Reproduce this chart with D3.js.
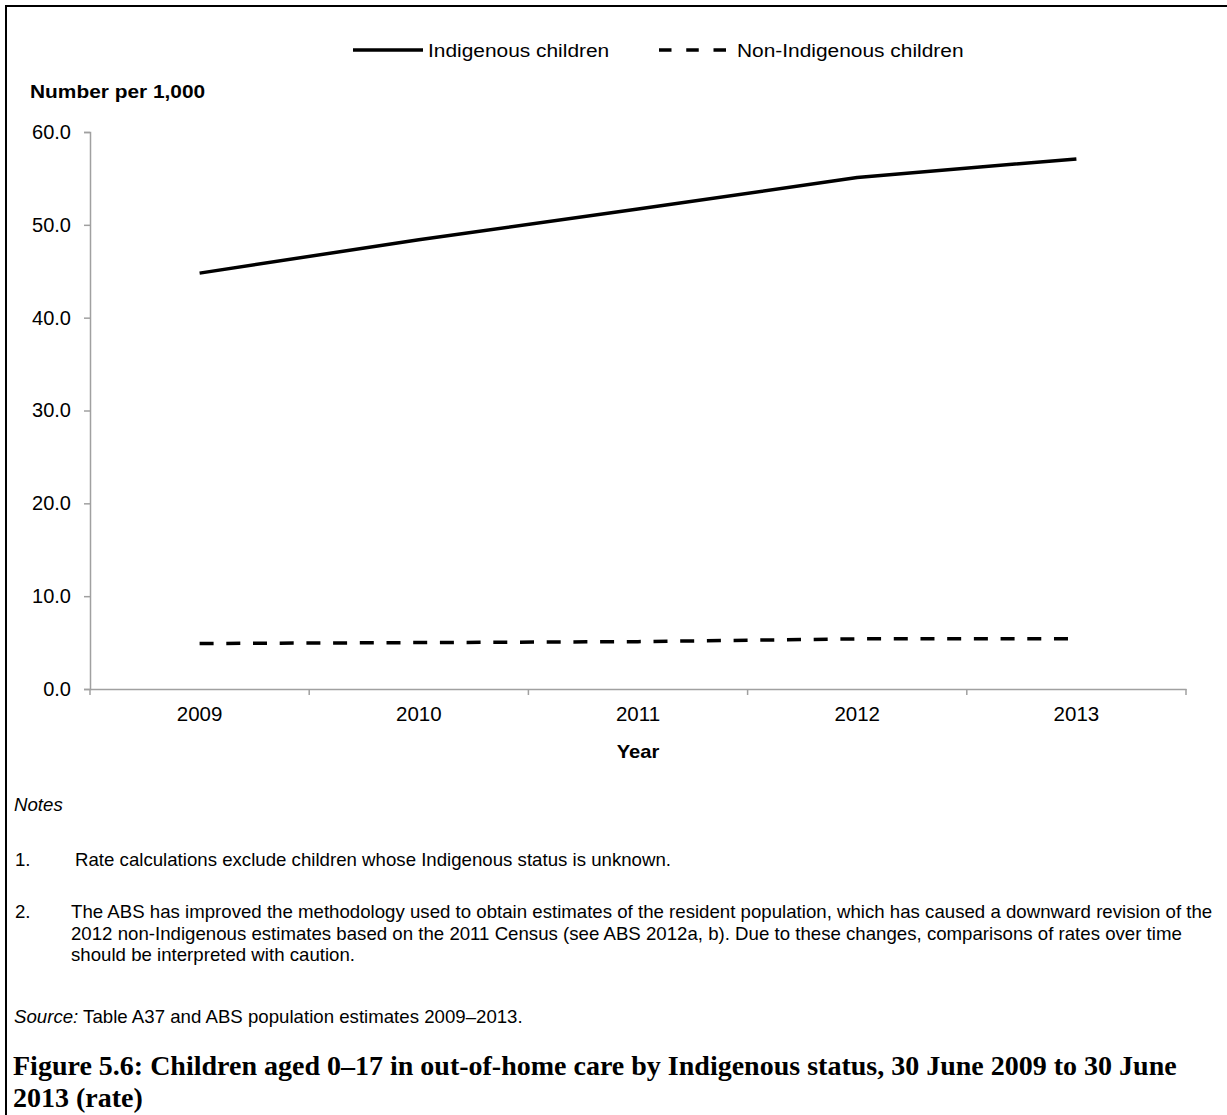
<!DOCTYPE html>
<html><head><meta charset="utf-8">
<script src="https://cdn.jsdelivr.net/npm/d3@7"></script>
<style>
body{margin:0;background:#fff;}
svg{display:block;}
</style></head>
<body>
<svg id="c" width="1227" height="1115"></svg>
<script>
const years = ["2009","2010","2011","2012","2013"];
const indigenous = [44.8, 48.4, 51.7, 55.1, 57.1];
const nonIndigenous = [4.9, 5.0, 5.1, 5.4, 5.4];
const yTicks = [0,10,20,30,40,50,60];
const seriesNames = ["Indigenous children","Non-Indigenous children"];

const svg = d3.select("#c");
const sans = "'Liberation Sans', Arial, sans-serif";
const serif = "'Liberation Serif', 'Times New Roman', serif";
const axisCol = "#a0a0a0";

function txt(x, y, s, size, opts = {}) {
  const sx = opts.sx || 1;
  const t = svg.append("text")
    .attr("transform", `translate(${x},${y}) scale(${sx},1)`)
    .attr("font-family", opts.family || sans)
    .attr("font-size", size)
    .attr("font-weight", opts.weight || "normal")
    .attr("font-style", opts.style || "normal")
    .attr("text-anchor", opts.anchor || "start")
    .attr("fill", "#000");
  if (s !== null) t.text(s);
  return t;
}

// border
svg.append("rect").attr("x",6).attr("y",6).attr("width",1230).attr("height",1130)
  .attr("fill","none").attr("stroke","#000").attr("stroke-width",2);

const x = d3.scaleBand().domain(years).range([90,1186]);
const y = d3.scaleLinear().domain([0,60]).range([689,132]);

// y axis
const gy = svg.append("g").attr("transform","translate(90,0)")
  .call(d3.axisLeft(y).tickValues(yTicks).tickFormat(d3.format(".1f")).tickSize(6).tickPadding(13));
gy.select(".domain").attr("stroke",axisCol).attr("stroke-width",1.5);
gy.selectAll(".tick line").attr("stroke",axisCol).attr("stroke-width",1.5);
gy.selectAll(".tick text").attr("font-family",sans).attr("font-size",20).attr("fill","#000");

// x axis
const gx = svg.append("g").attr("transform","translate(0,689)")
  .call(d3.axisBottom(x).tickSize(0).tickPadding(17));
gx.select(".domain").attr("stroke",axisCol).attr("stroke-width",1.5);
gx.selectAll(".tick text").attr("font-family",sans).attr("font-size",20.5).attr("fill","#000");
const bounds = years.map(d=>x(d)).concat([x(years[years.length-1])+x.bandwidth()]);
svg.append("g").selectAll("line").data(bounds).join("line")
  .attr("x1",d=>d).attr("x2",d=>d).attr("y1",689).attr("y2",695)
  .attr("stroke",axisCol).attr("stroke-width",1.5);

// lines
const line = d3.line().x((d,i)=>x(years[i])+x.bandwidth()/2).y(d=>y(d));
svg.append("path").datum(indigenous).attr("d",line).attr("fill","none")
  .attr("stroke","#000").attr("stroke-width",3.5).attr("stroke-linejoin","round");
svg.append("path").datum(nonIndigenous).attr("d",line).attr("fill","none")
  .attr("stroke","#000").attr("stroke-width",3.5).attr("stroke-dasharray","14,12.7");

// axis titles
txt(30, 98, "Number per 1,000", 18, {weight:"bold", sx:1.16});
txt(638, 758, "Year", 18, {weight:"bold", anchor:"middle", sx:1.12});

// legend
svg.append("line").attr("x1",353).attr("x2",423).attr("y1",50).attr("y2",50)
  .attr("stroke","#000").attr("stroke-width",3.5);
txt(428, 57, seriesNames[0], 19, {sx:1.1});
svg.append("line").attr("x1",659).attr("x2",726).attr("y1",50).attr("y2",50)
  .attr("stroke","#000").attr("stroke-width",3.5).attr("stroke-dasharray","12.5,14.75");
txt(737, 57, seriesNames[1], 19, {sx:1.1});

// notes
const nf = 17.5, nsx = 1.066;
txt(14, 811, "Notes", nf, {style:"italic", sx:nsx});
txt(15, 866, "1.", nf, {sx:nsx});
txt(75, 866, "Rate calculations exclude children whose Indigenous status is unknown.", nf, {sx:nsx});
txt(15, 918, "2.", nf, {sx:nsx});
const n2 = ["The ABS has improved the methodology used to obtain estimates of the resident population, which has caused a downward revision of the",
 "2012 non-Indigenous estimates based on the 2011 Census (see ABS 2012a, b). Due to these changes, comparisons of rates over time",
 "should be interpreted with caution."];
n2.forEach((t,i)=>txt(71, 918 + i*21.6, t, nf, {sx:nsx}));
const src = txt(14, 1023, null, nf, {sx:nsx});
src.append("tspan").attr("font-style","italic").text("Source:");
src.append("tspan").text(" Table A37 and ABS population estimates 2009–2013.");

// title
txt(13, 1075, "Figure 5.6: Children aged 0–17 in out-of-home care by Indigenous status, 30 June 2009 to 30 June", 28, {family:serif, weight:"bold"});
txt(13, 1107, "2013 (rate)", 28, {family:serif, weight:"bold"});
</script>
</body></html>
